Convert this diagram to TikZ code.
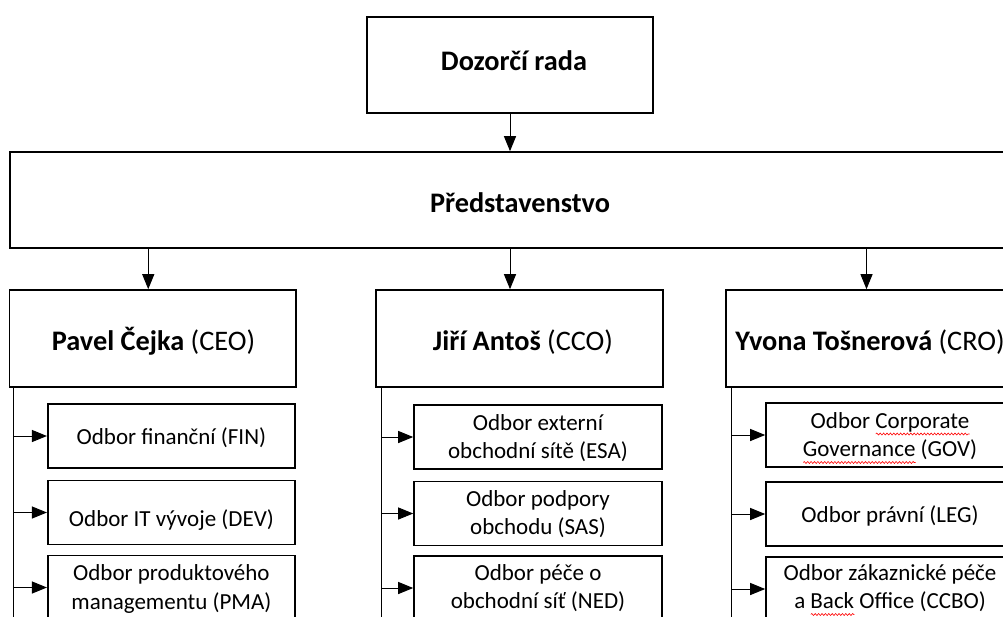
\documentclass[tikz,border=0pt]{standalone}
\usepackage{fontspec}
\setmainfont{Carlito}
\usetikzlibrary{arrows.meta,decorations.pathmorphing}
\newdimen\spwd
\newcommand\spellmark[1]{\setbox0=\hbox{#1}\spwd=\wd0\relax\rlap{\tikz[baseline=0pt,x=1pt,y=1pt]{\path (0pt,0pt); \draw[red, line width=0.6pt, decorate, decoration={snake, amplitude=1pt, segment length=3.4pt}] (0pt,-6pt) -- (\the\spwd,-6pt);}}\box0\relax}
\tikzset{
  bigbox/.style={draw, line width=1.6pt, rectangle, inner sep=0pt, minimum height=96pt},
  subbox/.style={draw, line width=1.6pt, rectangle, inner sep=0pt, minimum width=248pt, minimum height=64pt},
  headtxt/.style={anchor=base, inner sep=0pt, font=\fontsize{28.3}{34}\selectfont},
  subtxt/.style={anchor=base, inner sep=0pt, font=\fontsize{23}{28.5}\selectfont},
  arr/.style={line width=1pt, -{Triangle[length=15pt, width=12pt]}},
  conn/.style={line width=1pt}
}
\newcommand\twolines[2]{\begin{tabular}[t]{@{}c@{}}#1\\#2\end{tabular}}
\begin{document}
\begin{tikzpicture}[x=1pt, y=-1pt]
\useasboundingbox (0,0) rectangle (1003,616);
\clip (0,0) rectangle (1003,616);
% top level
\node[bigbox, minimum width=286pt] (dozor) at (510,65) {};
\node[headtxt] (dozort) at (514,70) {\bfseries Dozorčí rada};
\node[bigbox, minimum width=1020pt] (pred) at (520,200) {};
\node[headtxt] (predt) at (520,212) {\bfseries Představenstvo};
% second level
\node[bigbox, minimum width=286.5pt, minimum height=97pt] (pavel) at (152.75,338.5) {};
\node[headtxt] (pavelt) at (153.5,350) {\textbf{Pavel Čejka} (CEO)};
\node[bigbox, minimum width=287pt, minimum height=97pt] (jiri) at (519.5,338.5) {};
\node[headtxt] (jirit) at (523,350) {\textbf{Jiří Antoš} (CCO)};
\node[bigbox, minimum width=287pt, minimum height=97pt] (yvona) at (869.5,338.5) {};
\node[headtxt] (yvonat) at (870,350) {\textbf{Yvona Tošnerová} (CRO)};
% arrows
\draw[arr] (dozor.south) -- (dozor.south |- pred.north);
\draw[arr] ([xshift=-4.5pt]pavel.north |- pred.south) -- ([xshift=-4.5pt]pavel.north);
\draw[arr] (dozor.south |- pred.south) -- (dozor.south |- jiri.north);
\draw[arr] ([xshift=-3pt]yvona.north |- pred.south) -- ([xshift=-3pt]yvona.north);
% Pavel column
\node[subbox, minimum width=247.3pt] (fin) at (171.4,436) {};
\node[subtxt] (fint) at (171.4,444) {Odbor finanční (FIN)};
\node[subbox, minimum width=247.3pt] (dev) at (171.4,512.5) {};
\node[subtxt] (devt) at (171.4,526) {Odbor IT vývoje (DEV)};
\node[subbox, minimum width=247.3pt] (pma) at (171.4,587.5) {};
\node[subtxt] (pmat) at (171.4,580.5) {\twolines{Odbor produktového}{managementu (PMA)}};
\coordinate (pend) at ([xshift=5pt]pavel.south west |- 0,630);
\draw[conn] ([xshift=5pt]pavel.south west) -- (pend);
\foreach \b in {fin,dev,pma}{
  \draw[arr] ([xshift=5pt]pavel.south west |- \b.west) -- (\b.west);
}
% Jiri column
\node[subbox] (esa) at (538,437) {};
\node[subtxt] (esat) at (538,430) {\twolines{Odbor externí}{obchodní sítě (ESA)}};
\node[subbox] (sas) at (538,513.5) {};
\node[subtxt] (sast) at (538,506) {\twolines{Odbor podpory}{obchodu (SAS)}};
\node[subbox] (ned) at (538,588) {};
\node[subtxt] (nedt) at (538,580) {\twolines{Odbor péče o}{obchodní síť (NED)}};
\coordinate (jend) at ([xshift=6pt]jiri.south west |- 0,630);
\draw[conn] ([xshift=6pt]jiri.south west) -- (jend);
\foreach \b in {esa,sas,ned}{
  \draw[arr] ([xshift=6pt]jiri.south west |- \b.west) -- (\b.west);
}
% Yvona column
\node[subbox] (gov) at (890,435) {};
\node[subtxt] (govt) at (890,428) {\twolines{Odbor \spellmark{Corporate}}{\spellmark{Governance} (GOV)}};
\node[subbox] (leg) at (890,514) {};
\node[subtxt] (legt) at (890,522) {Odbor právní (LEG)};
\node[subbox] (ccbo) at (890,589) {};
\node[subtxt] (ccbot) at (890,580) {\twolines{Odbor zákaznické péče}{a \spellmark{Back} Office (CCBO)}};
\coordinate (yend) at ([xshift=6pt]yvona.south west |- 0,630);
\draw[conn] ([xshift=6pt]yvona.south west) -- (yend);
\foreach \b in {gov,leg,ccbo}{
  \draw[arr] ([xshift=6pt]yvona.south west |- \b.west) -- (\b.west);
}
\end{tikzpicture}
\end{document}
